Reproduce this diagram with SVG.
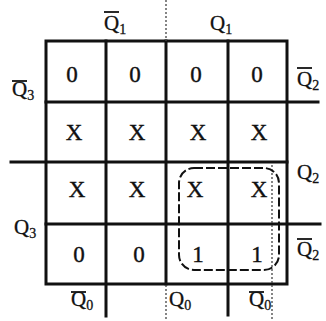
<svg xmlns="http://www.w3.org/2000/svg" width="326" height="321" viewBox="0 0 326 321">
<style>
.g{stroke:#111;stroke-width:3;fill:none;stroke-linecap:square}
.dot{stroke:#444;stroke-width:1.3;fill:none;stroke-dasharray:2 2}
.ob{stroke:#111;stroke-width:1.8}
.v{font-family:"Liberation Serif","DejaVu Serif",serif;font-size:23px;fill:#111;stroke:#111;stroke-width:0.4;text-anchor:middle}
.l{font-family:"Liberation Serif","DejaVu Serif",serif;font-size:21px;fill:#111;stroke:#111;stroke-width:0.3}
.s{font-size:14px}
.grp{stroke:#111;stroke-width:2;fill:none;stroke-dasharray:9 3}
</style>
<rect width="326" height="321" fill="#fff"/>
<g id="connectors">
<rect class="g" x="46" y="41" width="241" height="243"/>
<line class="g" x1="106" y1="41" x2="106" y2="316"/>
<line class="g" x1="166" y1="41" x2="166" y2="284"/>
<line class="g" x1="228" y1="41" x2="228" y2="315"/>
<line class="g" x1="46" y1="102" x2="318" y2="102"/>
<line class="g" x1="11" y1="162" x2="287" y2="162"/>
<line class="g" x1="46" y1="224" x2="320" y2="224"/>
<line class="dot" x1="166" y1="0" x2="166" y2="41"/>
<line class="dot" x1="166" y1="285" x2="166" y2="321"/>
<line class="dot" x1="272" y1="165" x2="272" y2="321"/>
</g>
<g id="group-box">
<rect class="grp" x="179" y="168" width="100" height="102" rx="15"/>
</g>
<g id="cells">
<text class="v" x="72" y="82">0</text>
<text class="v" x="135" y="82">0</text>
<text class="v" x="196" y="82">0</text>
<text class="v" x="257" y="82">0</text>
<text class="v" x="74" y="140">X</text>
<text class="v" x="137" y="140">X</text>
<text class="v" x="198" y="140">X</text>
<text class="v" x="259" y="140">X</text>
<text class="v" x="77" y="197">X</text>
<text class="v" x="137" y="197">X</text>
<text class="v" x="195" y="197">X</text>
<text class="v" x="259" y="197">X</text>
<text class="v" x="79" y="262">0</text>
<text class="v" x="139" y="262">0</text>
<text class="v" x="198" y="262">1</text>
<text class="v" x="257" y="262">1</text>
</g>
<g id="labels">
<text class="l" x="104" y="30">Q<tspan class="s" dy="4">1</tspan></text>
<line class="ob" x1="104" y1="12" x2="119" y2="12"/>
<text class="l" x="210" y="30">Q<tspan class="s" dy="4">1</tspan></text>
<text class="l" x="12" y="96">Q<tspan class="s" dy="4">3</tspan></text>
<line class="ob" x1="12" y1="81" x2="27" y2="81"/>
<text class="l" x="14" y="234">Q<tspan class="s" dy="4">3</tspan></text>
<text class="l" x="297" y="86">Q<tspan class="s" dy="4">2</tspan></text>
<line class="ob" x1="297" y1="68" x2="312" y2="68"/>
<text class="l" x="297" y="179">Q<tspan class="s" dy="4">2</tspan></text>
<text class="l" x="297" y="256">Q<tspan class="s" dy="4">2</tspan></text>
<line class="ob" x1="297" y1="239" x2="312" y2="239"/>
<text class="l" x="71" y="306">Q<tspan class="s" dy="4">0</tspan></text>
<line class="ob" x1="71" y1="292" x2="86" y2="292"/>
<text class="l" x="169" y="306">Q<tspan class="s" dy="4">0</tspan></text>
<text class="l" x="249" y="306">Q<tspan class="s" dy="4">0</tspan></text>
<line class="ob" x1="249" y1="292" x2="264" y2="292"/>
</g>
</svg>
